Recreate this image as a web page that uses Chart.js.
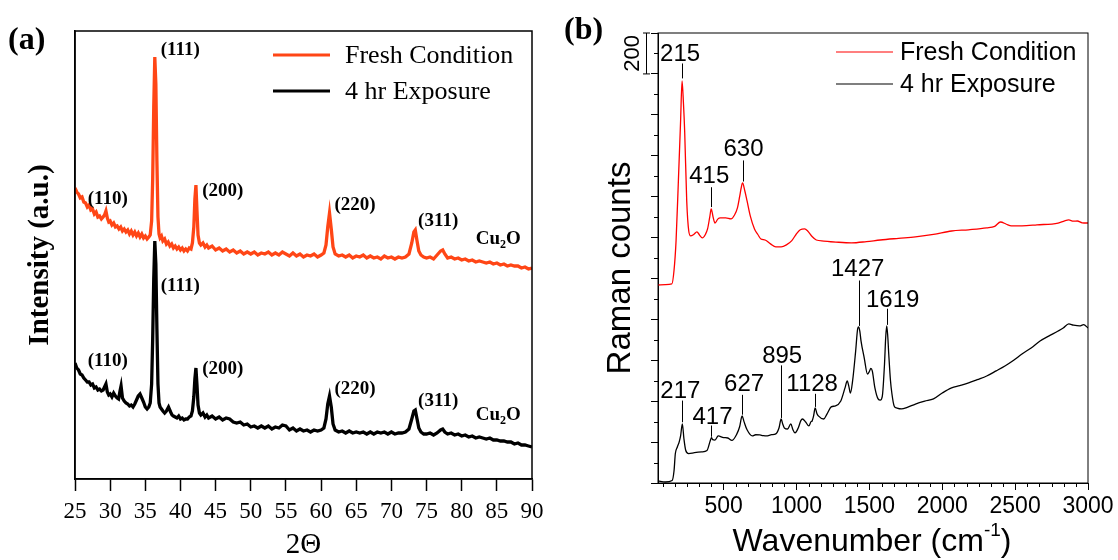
<!DOCTYPE html>
<html>
<head>
<meta charset="utf-8">
<title>XRD and Raman spectra</title>
<script src="https://cdn.jsdelivr.net/npm/chart.js@4.4.1/dist/chart.umd.min.js"></script>
<style>
  body { margin: 0; background: #fff; }
  #wrap { position: relative; width: 1118px; height: 560px; }
  canvas { position: absolute; top: 0; }
  #xrd { left: 0; }
  #raman { left: 559px; }
</style>
</head>
<body>
<div id="wrap">
  <canvas id="xrd" width="559" height="560"></canvas>
  <canvas id="raman" width="559" height="560"></canvas>
</div>
<script>
// ---- XRD patterns: [2theta, intensity a.u.]
const xrdFresh = [
  [25.0,291],[25.25,287],[25.5,285],[25.75,281],[26.0,282],[26.25,277],[26.5,276],[26.75,272],
  [27.0,274],[27.25,269],[27.5,270],[27.75,265],[28.0,267],[28.25,262],[28.5,263],[28.75,260],
  [29.0,262],[29.2,264],[29.4,268],[29.6,261],[29.8,257],[30.0,258],[30.25,254],[30.5,256],
  [30.75,252],[31.0,253],[31.25,250],[31.5,252],[31.75,248],[32.0,250],[32.25,247],[32.5,249],
  [32.75,245],[33.0,248],[33.25,244],[33.5,247],[33.75,243],[34.0,246],[34.25,242],[34.5,245],
  [34.75,241],[35.0,243],[35.25,240],[35.5,242],[35.7,244],[35.9,258],[36.05,300],[36.2,372],
  [36.35,422],[36.5,395],[36.65,318],[36.8,262],[36.95,245],[37.1,241],[37.3,243],[37.5,238],
  [37.75,240],[38.0,235],[38.25,237],[38.5,233],[38.75,235],[39.0,231],[39.25,233],[39.5,230],
  [39.75,232],[40.0,229],[40.25,231],[40.5,228],[40.75,230],[41.0,228],[41.25,231],[41.5,230],
  [41.7,236],[41.9,252],[42.05,280],[42.2,294],[42.35,268],[42.5,244],[42.7,236],[42.9,234],
  [43.2,236],[43.5,232],[43.75,234],[44.0,231],[44.5,233],[45.0,229],[45.5,231],[46.0,228],
  [46.5,230],[47.0,227],[47.5,229],[48.0,226],[48.5,228],[49.0,225],[49.5,227],[50.0,225],
  [50.5,227],[51.0,224],[51.5,226],[52.0,225],[52.5,227],[53.0,224],[53.5,226],[54.0,224],
  [54.5,227],[55.0,225],[55.5,223],[56.0,226],[56.5,223],[57.0,225],[57.5,222],[58.0,224],
  [58.5,223],[59.0,225],[59.5,222],[60.0,224],[60.4,226],[60.7,234],[60.95,252],[61.2,266],
  [61.45,250],[61.7,232],[62.0,225],[62.5,223],[63.0,224],[63.5,222],[64.0,224],[64.5,221],
  [65.0,223],[65.5,222],[66.0,224],[66.5,221],[67.0,223],[67.5,221],[68.0,222],[68.5,220],
  [69.0,223],[69.5,221],[70.0,222],[70.5,220],[71.0,222],[71.5,221],[72.0,222],[72.5,225],
  [72.9,236],[73.2,247],[73.4,249],[73.65,238],[73.9,228],[74.2,224],[74.6,222],[75.0,221],
  [75.5,222],[76.0,220],[76.5,224],[77.0,228],[77.3,229],[77.6,225],[78.0,221],[78.5,222],
  [79.0,220],[79.5,221],[80.0,219],[80.5,220],[81.0,218],[81.5,219],[82.0,217],[82.5,218],
  [83.0,217],[83.5,216],[84.0,217],[84.5,215],[85.0,216],[85.5,214],[86.0,215],[86.5,213],
  [87.0,214],[87.5,213],[88.0,213],[88.5,211],[89.0,212],[89.5,210],[90.0,211]
];
const xrdExposed = [
  [25.0,116],[25.25,111],[25.5,109],[25.75,105],[26.0,104],[26.25,101],[26.5,99],[26.75,97],
  [27.0,97],[27.25,94],[27.5,95],[27.75,91],[28.0,92],[28.25,89],[28.5,90],[28.75,88],
  [29.0,89],[29.2,92],[29.4,95],[29.6,87],[29.8,84],[30.0,85],[30.25,82],[30.5,86],
  [30.75,83],[31.0,81],[31.2,80],[31.4,88],[31.55,93],[31.75,81],[32.0,78],[32.25,76],
  [32.5,75],[32.75,73],[33.0,74],[33.25,72],[33.5,75],[33.75,79],[34.0,83],[34.25,85],
  [34.5,81],[34.75,77],[35.0,72],[35.25,70],[35.5,72],[35.7,76],[35.9,95],[36.05,140],
  [36.2,200],[36.35,238],[36.5,215],[36.65,150],[36.8,95],[36.95,76],[37.1,72],[37.3,70],
  [37.5,68],[37.75,66],[38.0,68],[38.3,72],[38.6,67],[38.8,64],[39.0,63],[39.25,62],
  [39.5,61],[39.75,63],[40.0,60],[40.25,61],[40.5,59],[40.75,60],[41.0,60],[41.25,62],
  [41.5,63],[41.7,68],[41.9,82],[42.05,100],[42.2,111],[42.35,94],[42.5,74],[42.7,66],
  [42.9,64],[43.2,66],[43.5,62],[43.75,64],[44.0,61],[44.5,63],[45.0,60],[45.5,62],
  [46.0,59],[46.5,61],[47.0,60],[47.5,57],[48.0,56],[48.5,57],[49.0,54],[49.5,55],
  [50.0,52],[50.5,53],[51.0,51],[51.5,53],[52.0,51],[52.5,53],[53.0,50],[53.5,52],
  [54.0,51],[54.5,54],[55.0,53],[55.5,49],[56.0,51],[56.5,48],[57.0,50],[57.5,48],
  [58.0,49],[58.5,47],[59.0,49],[59.5,48],[60.0,49],[60.4,51],[60.7,60],[60.95,75],
  [61.2,83],[61.45,72],[61.7,55],[62.0,49],[62.5,47],[63.0,48],[63.5,46],[64.0,48],
  [64.5,46],[65.0,47],[65.5,46],[66.0,47],[66.5,45],[67.0,47],[67.5,45],[68.0,47],
  [68.5,46],[69.0,47],[69.5,45],[70.0,47],[70.5,45],[71.0,46],[71.5,46],[72.0,47],
  [72.5,50],[72.9,60],[73.2,68],[73.4,69],[73.65,60],[73.9,51],[74.2,47],[74.6,45],
  [75.0,45],[75.5,46],[76.0,44],[76.5,46],[77.0,49],[77.3,50],[77.6,47],[78.0,45],
  [78.5,46],[79.0,44],[79.5,45],[80.0,43],[80.5,44],[81.0,42],[81.5,43],[82.0,41],
  [82.5,42],[83.0,41],[83.5,40],[84.0,41],[84.5,39],[85.0,39],[85.5,38],[86.0,38],
  [86.5,37],[87.0,37],[87.5,35],[88.0,36],[88.5,34],[89.0,34],[89.5,33],[90.0,32]
];
const hklLabels = ['(110)', '(111)', '(200)', '(220)', '(311)'];

// ---- Raman spectra: [wavenumber cm-1, counts]
const ramanFresh = [
  [50,968],[100,970],[145,973],[160,1040],[174,1185],[190,1480],[205,1770],[215,1966],
  [225,1850],[233,1720],[247,1380],[261,1232],[274,1208],[295,1215],[317,1228],[335,1212],
  [354,1198],[375,1215],[390,1242],[405,1300],[415,1340],[428,1300],[441,1271],[460,1290],
  [478,1296],[515,1296],[551,1291],[575,1310],[595,1345],[610,1400],[620,1440],[630,1467],
  [645,1430],[661,1379],[683,1306],[712,1242],[735,1215],[756,1193],[785,1188],[822,1169],
  [858,1154],[895,1154],[931,1164],[968,1185],[997,1215],[1026,1238],[1056,1242],[1077,1232],
  [1107,1205],[1136,1188],[1187,1183],[1270,1178],[1377,1174],[1480,1180],[1575,1188],[1700,1196],
  [1816,1203],[1940,1215],[2064,1232],[2180,1238],[2305,1247],[2360,1255],[2400,1276],[2440,1265],
  [2474,1257],[2547,1257],[2650,1262],[2795,1271],[2840,1282],[2868,1286],[2900,1280],[2927,1281],
  [2960,1272],[3000,1271]
];
const ramanExposed = [
  [50,10],[100,5],[147,12],[160,60],[169,144],[182,175],[195,200],[205,230],[217,289],
  [228,215],[240,160],[260,144],[300,148],[350,152],[386,159],[409,208],[417,222],[425,212],
  [441,210],[463,230],[500,222],[529,220],[557,208],[591,240],[610,275],[627,328],[640,300],
  [661,260],[697,230],[720,236],[749,235],[770,232],[792,230],[830,236],[858,240],[880,269],
  [895,313],[905,290],[917,269],[939,264],[961,289],[975,262],[990,245],[1012,269],[1030,305],
  [1041,313],[1063,298],[1085,279],[1100,300],[1107,303],[1118,330],[1128,367],[1140,340],
  [1150,328],[1187,313],[1209,337],[1238,372],[1268,377],[1304,401],[1333,465],[1348,499],
  [1360,470],[1370,440],[1385,499],[1406,645],[1420,755],[1427,763],[1435,740],[1443,694],
  [1465,611],[1487,533],[1500,545],[1510,560],[1520,548],[1538,465],[1560,411],[1575,405],
  [1589,425],[1604,582],[1612,710],[1619,768],[1626,720],[1633,631],[1645,500],[1655,435],
  [1670,377],[1690,366],[1721,362],[1760,370],[1816,386],[1880,400],[1940,411],[2000,440],
  [2064,465],[2120,476],[2181,489],[2240,505],[2305,523],[2370,548],[2430,572],[2490,600],
  [2547,631],[2610,660],[2671,694],[2730,718],[2795,743],[2830,758],[2868,778],[2900,772],
  [2942,768],[2970,774],[3000,758]
];
const ramanFreshBands = [215, 415, 630];
const ramanExposedBands = [217, 417, 627, 895, 1128, 1427, 1619];
const ramanXTicks = [500, 1000, 1500, 2000, 2500, 3000];
const ramanYTicks = [0, 200, 400, 600, 800, 1000, 1200, 1400, 1600, 1800, 2000, 2200];

const serif = "'Times New Roman', 'Liberation Serif', serif";
const sans = "Arial, 'Liberation Sans', sans-serif";
const orange = '#ff4616';

// box around the plot area
const frame = {
  id: 'frame',
  afterDraw(chart, args, opts) {
    const { ctx, chartArea: a } = chart;
    ctx.save();
    ctx.strokeStyle = '#000';
    ctx.lineWidth = opts.width || 1;
    ctx.strokeRect(a.left, a.top, a.right - a.left, a.bottom - a.top);
    ctx.restore();
  }
};

function legendRows(ctx, rows, x0, x1, tx, font, lw) {
  ctx.font = font;
  ctx.textAlign = 'left';
  ctx.textBaseline = 'middle';
  rows.forEach(r => {
    ctx.strokeStyle = r.color;
    ctx.lineWidth = lw;
    ctx.beginPath();
    ctx.moveTo(x0, r.y);
    ctx.lineTo(x1, r.y);
    ctx.stroke();
    ctx.fillStyle = '#000';
    ctx.fillText(r.text, tx, r.y + 1);
  });
}

// Miller indices and phase tags on the XRD panel
const freshTagAt = [[26.8, 280], [37.2, 429], [43.1, 288], [61.9, 274], [73.8, 258]];
const exposedTagAt = [[26.8, 118], [37.2, 193], [43.1, 110], [61.9, 90], [73.8, 78]];
const phaseTagAt = [[82.0, 240], [82.0, 64]];

const xrdDecor = {
  id: 'xrdDecor',
  afterDraw(chart) {
    const { ctx, scales: { x, y } } = chart;
    ctx.save();
    ctx.fillStyle = '#000';
    ctx.textAlign = 'left';
    ctx.textBaseline = 'middle';
    ctx.font = 'bold 19px ' + serif;
    [freshTagAt, exposedTagAt].forEach(list => {
      list.forEach((p, i) => ctx.fillText(hklLabels[i], x.getPixelForValue(p[0]), y.getPixelForValue(p[1])));
    });
    phaseTagAt.forEach(p => {
      let px = x.getPixelForValue(p[0]);
      const py = y.getPixelForValue(p[1]);
      ctx.font = 'bold 19px ' + serif;
      ctx.fillText('Cu', px, py);
      px += ctx.measureText('Cu').width;
      ctx.font = 'bold 12px ' + serif;
      ctx.fillText('2', px, py + 6);
      px += ctx.measureText('2').width;
      ctx.font = 'bold 19px ' + serif;
      ctx.fillText('O', px, py);
    });

    ctx.font = 'bold 32px ' + serif;
    ctx.fillText('(a)', 8, 41);

    legendRows(ctx, [
      { text: 'Fresh Condition', color: orange, y: 55 },
      { text: '4 hr Exposure', color: '#000', y: 91 }
    ], 273, 330, 345, '26px ' + serif, 3);
    ctx.restore();
  }
};

new Chart(document.getElementById('xrd'), {
  type: 'line',
  data: {
    datasets: [
      { label: 'Fresh Condition', data: xrdFresh, borderColor: orange, borderWidth: 3.3, pointRadius: 0 },
      { label: '4 hr Exposure', data: xrdExposed, borderColor: '#000', borderWidth: 3.3, pointRadius: 0 }
    ]
  },
  options: {
    responsive: false,
    animation: false,
    layout: { padding: { top: 31, right: 27, left: 0, bottom: 0 } },
    plugins: { legend: { display: false }, tooltip: { enabled: false }, frame: { width: 1.5 } },
    scales: {
      x: {
        type: 'linear', min: 25, max: 90,
        afterFit: s => { s.height = 81; },
        ticks: { stepSize: 5, padding: 7, color: '#000', font: { family: serif, size: 23 } },
        grid: { drawOnChartArea: false, tickLength: 12, tickColor: '#000', tickWidth: 1.5 },
        border: { color: '#000', width: 1.5 },
        title: { display: true, text: '2Θ', color: '#000', padding: { top: 0, bottom: 0 },
                 font: { family: serif, size: 29, lineHeight: 1 } }
      },
      y: {
        min: 0, max: 448,
        afterFit: s => { s.width = 75; },
        ticks: { display: false },
        grid: { display: false },
        border: { color: '#000', width: 1.5 },
        title: { display: true, text: 'Intensity (a.u.)', color: '#000', padding: { top: 26, bottom: 0 },
                 font: { family: serif, size: 29, weight: 'bold', lineHeight: 1 } }
      }
    }
  },
  plugins: [frame, xrdDecor]
});

// band positions: text centre and marker line ends in counts
const freshBandLabels = [
  { ty: 2099, y1: 2051, y2: 1978, dx: -2 },
  { ty: 1504, y1: 1446, y2: 1349, dx: -2 },
  { ty: 1634, y1: 1577, y2: 1474, dx: 1 }
];
const exposedBandLabels = [
  { ty: 452, y1: 403, y2: 297, dx: -2 },
  { ty: 325, y1: 281, y2: 226, dx: 1 },
  { ty: 485, y1: 431, y2: 334, dx: 2 },
  { ty: 623, y1: 575, y2: 318, dx: 1 },
  { ty: 488, y1: 436, y2: 372, dx: -3 },
  { ty: 1047, y1: 990, y2: 768, dx: -1 },
  { ty: 900, y1: 852, y2: 773, dx: 6 }
];

const ramanDecor = {
  id: 'ramanDecor',
  afterDraw(chart) {
    const { ctx, chartArea: a, scales: { x, y } } = chart;
    ctx.save();
    ctx.strokeStyle = '#000';
    ctx.fillStyle = '#000';
    ctx.lineWidth = 1;

    // minor ticks, six intervals per major on x, two on y
    ctx.beginPath();
    for (let k = 1; k < 36; k++) {
      if (k % 6 === 0) continue;
      const px = Math.round(x.getPixelForValue(k * 500 / 6)) + 0.5;
      ctx.moveTo(px, a.bottom);
      ctx.lineTo(px, a.bottom + 4);
    }
    for (let v = 100; v < 2200; v += 200) {
      const py = Math.round(y.getPixelForValue(v)) + 0.5;
      ctx.moveTo(a.left, py);
      ctx.lineTo(a.left - 4, py);
    }
    ctx.stroke();

    // 200-count scale bar
    const b0 = y.getPixelForValue(2200), b1 = y.getPixelForValue(2000), bm = y.getPixelForValue(2100);
    ctx.beginPath();
    ctx.moveTo(84, b0); ctx.lineTo(91, b0);
    ctx.moveTo(84, b1); ctx.lineTo(91, b1);
    ctx.moveTo(87.5, b0); ctx.lineTo(87.5, b1);
    ctx.stroke();
    ctx.save();
    ctx.translate(73, bm);
    ctx.rotate(-Math.PI / 2);
    ctx.font = '22px ' + sans;
    ctx.textAlign = 'center';
    ctx.textBaseline = 'middle';
    ctx.fillText('200', 0, 1);
    ctx.restore();

    // band labels with marker lines
    ctx.font = '24px ' + sans;
    ctx.textAlign = 'center';
    ctx.textBaseline = 'middle';
    const bands = (vals, cfg) => vals.forEach((v, i) => {
      const c = cfg[i];
      const px = x.getPixelForValue(v);
      ctx.fillText(String(v), px + c.dx, y.getPixelForValue(c.ty) + 1);
      ctx.beginPath();
      ctx.moveTo(Math.round(px) + 0.5, y.getPixelForValue(c.y1));
      ctx.lineTo(Math.round(px) + 0.5, y.getPixelForValue(c.y2));
      ctx.stroke();
    });
    bands(ramanFreshBands, freshBandLabels);
    bands(ramanExposedBands, exposedBandLabels);

    // axis titles
    ctx.font = '32px ' + sans;
    ctx.textAlign = 'left';
    ctx.textBaseline = 'alphabetic';
    const main = 'Wavenumber (cm', sup = '-1', tail = ')';
    const wMain = ctx.measureText(main).width, wTail = ctx.measureText(tail).width;
    ctx.font = '19px ' + sans;
    const wSup = ctx.measureText(sup).width;
    let tx = 313 - (wMain + wSup + wTail) / 2;
    ctx.font = '32px ' + sans;
    ctx.fillText(main, tx, 551);
    tx += wMain;
    ctx.font = '19px ' + sans;
    ctx.fillText(sup, tx, 536);
    tx += wSup;
    ctx.font = '32px ' + sans;
    ctx.fillText(tail, tx, 551);

    ctx.save();
    ctx.translate(62, 268);
    ctx.rotate(-Math.PI / 2);
    ctx.font = '33px ' + sans;
    ctx.textAlign = 'center';
    ctx.textBaseline = 'middle';
    ctx.fillText('Raman counts', 0, 0);
    ctx.restore();

    ctx.font = 'bold 32px ' + serif;
    ctx.textAlign = 'left';
    ctx.textBaseline = 'middle';
    ctx.fillText('(b)', 5, 31);

    legendRows(ctx, [
      { text: 'Fresh Condition', color: '#ff0000', y: 52 },
      { text: '4 hr Exposure', color: '#000', y: 84 }
    ], 277, 334, 341, '25px ' + sans, 1.2);
    ctx.restore();
  }
};

new Chart(document.getElementById('raman'), {
  type: 'line',
  data: {
    datasets: [
      { label: 'Fresh Condition', data: ramanFresh, borderColor: '#ff0000', borderWidth: 1.3,
        pointRadius: 0, cubicInterpolationMode: 'monotone' },
      { label: '4 hr Exposure', data: ramanExposed, borderColor: '#000', borderWidth: 1.3,
        pointRadius: 0, cubicInterpolationMode: 'monotone' }
    ]
  },
  options: {
    responsive: false,
    animation: false,
    layout: { padding: { top: 33, right: 30, left: 0, bottom: 0 } },
    plugins: { legend: { display: false }, tooltip: { enabled: false }, frame: { width: 1 } },
    scales: {
      x: {
        type: 'linear', min: 50, max: 3000,
        afterFit: s => { s.height = 77; },
        afterBuildTicks: s => { s.ticks = ramanXTicks.map(v => ({ value: v })); },
        ticks: { padding: 3, color: '#000', font: { family: sans, size: 23 }, callback: v => String(v) },
        grid: { drawOnChartArea: false, tickLength: 7, tickColor: '#000', tickWidth: 1 },
        border: { color: '#000', width: 1 }
      },
      y: {
        min: 0, max: 2200,
        afterFit: s => { s.width = 99; },
        afterBuildTicks: s => { s.ticks = ramanYTicks.map(v => ({ value: v })); },
        ticks: { display: false },
        grid: { drawOnChartArea: false, tickLength: 7, tickColor: '#000', tickWidth: 1 },
        border: { color: '#000', width: 1 }
      }
    }
  },
  plugins: [frame, ramanDecor]
});
</script>
</body>
</html>
